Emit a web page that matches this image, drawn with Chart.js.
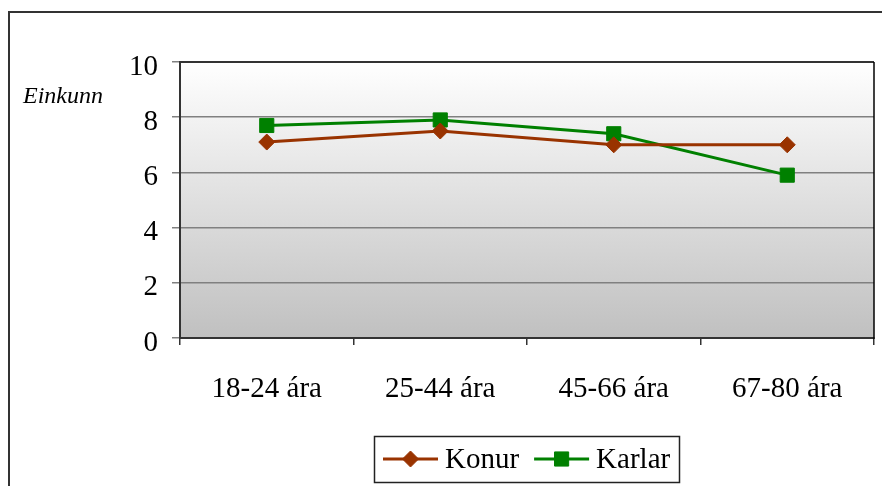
<!DOCTYPE html>
<html>
<head>
<meta charset="utf-8">
<script src="https://cdn.jsdelivr.net/npm/chart.js@4.4.0/dist/chart.umd.min.js"></script>
<style>
  html, body { margin: 0; padding: 0; background: #fff; overflow: hidden; }
  #wrap { position: relative; width: 882px; height: 486px; }
</style>
</head>
<body>
<div id="wrap"><canvas id="chart" width="882" height="486"></canvas></div>
<script>
const categories = ["18-24 ára", "25-44 ára", "45-66 ára", "67-80 ára"];
const konur = [7.1, 7.5, 7.0, 7.0];
const karlar = [7.7, 7.9, 7.4, 5.9];
const yTicks = [0, 2, 4, 6, 8, 10];
const axisTitle = "Einkunn";

const FONT = "'Liberation Serif', 'Times New Roman', serif";

// gradient behind the plot + outer frame
const background = {
  id: 'background',
  beforeDraw(chart) {
    const { ctx, chartArea: a } = chart;
    ctx.save();
    ctx.strokeStyle = '#333';
    ctx.lineWidth = 2;
    ctx.strokeRect(9, 12, 1000, 1000);
    const g = ctx.createLinearGradient(0, a.top, 0, a.bottom);
    g.addColorStop(0, '#ffffff');
    g.addColorStop(1, '#c0c0c0');
    ctx.fillStyle = g;
    ctx.fillRect(a.left, a.top, a.right - a.left, a.bottom - a.top);
    ctx.restore();
  }
};

// top/right border of plot area, axis title, legend
const extras = {
  id: 'extras',
  afterDraw(chart) {
    const { ctx, chartArea: a } = chart;
    ctx.save();
    ctx.strokeStyle = '#333';
    ctx.lineWidth = 2;
    ctx.beginPath();
    ctx.moveTo(a.left, a.top);
    ctx.lineTo(a.right, a.top);
    ctx.stroke();
    ctx.strokeStyle = '#000';
    ctx.lineWidth = 1.5;
    ctx.beginPath();
    ctx.moveTo(a.right, a.top);
    ctx.lineTo(a.right, a.bottom + 1);
    ctx.stroke();

    ctx.fillStyle = '#000';
    ctx.font = 'italic 24px ' + FONT;
    ctx.textBaseline = 'alphabetic';
    ctx.textAlign = 'left';
    ctx.fillText(axisTitle, a.left - 157, a.top + 41);

    // legend
    ctx.font = '29px ' + FONT;
    const lineLen = 55, gapText = 7, gapItem = 15, pad = 9;
    const items = chart.data.datasets.map(ds => ({ ds, w: ctx.measureText(ds.label).width }));
    const total = pad * 2 + items.reduce((s, it) => s + lineLen + gapText + it.w, 0) + gapItem * (items.length - 1);
    const top = a.bottom + 98, h = 46;
    let x = Math.round((a.left + a.right) / 2 - total / 2);
    ctx.strokeStyle = '#222';
    ctx.lineWidth = 1.5;
    ctx.strokeRect(x + 0.5, top + 0.5, Math.round(total), h);
    const midY = top + h / 2;
    x += pad;
    items.forEach(it => {
      const ds = it.ds;
      ctx.strokeStyle = ds.borderColor;
      ctx.lineWidth = ds.borderWidth;
      ctx.beginPath();
      ctx.moveTo(x, midY);
      ctx.lineTo(x + lineLen, midY);
      ctx.stroke();
      ctx.fillStyle = ds.pointBackgroundColor;
      ctx.lineWidth = 1;
      Chart.helpers.drawPoint(ctx, { pointStyle: ds.pointStyle, radius: ds.pointRadius, borderWidth: 1, rotation: 0 }, x + lineLen / 2, midY);
      ctx.fillStyle = '#000';
      ctx.textBaseline = 'middle';
      ctx.fillText(ds.label, x + lineLen + gapText, midY + 1);
      x += lineLen + gapText + it.w + gapItem;
    });
    ctx.restore();
  }
};

new Chart(document.getElementById('chart'), {
  type: 'line',
  data: {
    labels: categories,
    datasets: [
      {
        label: 'Konur',
        data: konur,
        borderColor: '#993300',
        backgroundColor: '#993300',
        pointBackgroundColor: '#993300',
        pointBorderColor: '#993300',
        borderWidth: 3,
        pointStyle: 'rectRot',
        pointRadius: 8,
        pointBorderWidth: 1,
        tension: 0
      },
      {
        label: 'Karlar',
        data: karlar,
        borderColor: '#008000',
        backgroundColor: '#008000',
        pointBackgroundColor: '#008000',
        pointBorderColor: '#008000',
        borderWidth: 3,
        pointStyle: 'rect',
        pointRadius: 10,
        pointBorderWidth: 1,
        tension: 0
      }
    ]
  },
  options: {
    responsive: false,
    animation: false,
    layout: { autoPadding: false, padding: { top: 62, right: 8, left: 0, bottom: 0 } },
    plugins: {
      legend: { display: false },
      tooltip: { enabled: false }
    },
    scales: {
      x: {
        offset: true,
        grid: {
          display: true,
          offset: true,
          drawOnChartArea: false,
          color: '#333',
          lineWidth: 1.5,
          tickLength: 7
        },
        border: { display: true, color: '#333', width: 2 },
        ticks: {
          color: '#000',
          font: { family: FONT, size: 29 },
          padding: 27,
          maxRotation: 0
        },
        afterFit(scale) { scale.height = 148; }
      },
      y: {
        min: 0,
        max: 10,
        afterBuildTicks(scale) { scale.ticks = yTicks.map(v => ({ value: v })); },
        grid: {
          color: '#808080',
          lineWidth: 1.5,
          tickLength: 8
        },
        border: { display: true, color: '#333', width: 2 },
        ticks: {
          color: '#000',
          font: { family: FONT, size: 29 },
          padding: 14,
          labelOffset: 5
        },
        afterFit(scale) { scale.width = 180; }
      }
    }
  },
  plugins: [background, extras]
});
</script>
</body>
</html>
